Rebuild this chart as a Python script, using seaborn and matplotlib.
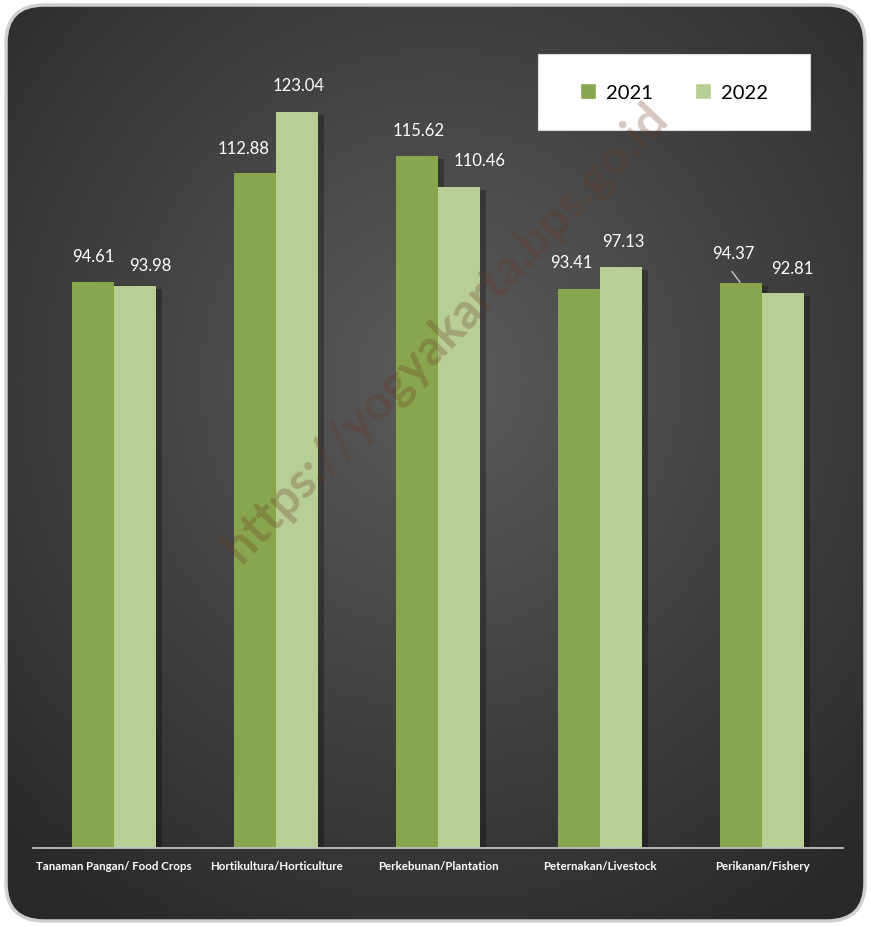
import numpy as np
import matplotlib
matplotlib.use('Agg')
import matplotlib.pyplot as plt
import seaborn as sns
import pandas as pd
from matplotlib.patches import FancyBboxPatch, Rectangle, Patch
import matplotlib.patheffects as pe

categories = ["Tanaman Pangan/ Food Crops", "Hortikultura/Horticulture",
              "Perkebunan/Plantation", "Peternakan/Livestock", "Perikanan/Fishery"]
years = ["2021", "2022"]
values_2021 = [94.61, 112.88, 115.62, 93.41, 94.37]
values_2022 = [93.98, 123.04, 110.46, 97.13, 92.81]

# label offsets (pixels) relative to bar top centre: style only
label_dx = {"2021": [0, -11, 2, -8, -8], "2022": [15, 2, 21, 2, 9]}
label_dy = {"2021": [26, 25, 26, 27, 30], "2022": [21, 27, 27, 26, 25]}

c21 = "#88A64E"
c22 = "#B7CE95"

sns.set_theme(style="white")
plt.rcParams['font.family'] = ['Lato', 'DejaVu Sans']

W, H = 871, 928
fig = plt.figure(figsize=(W / 100, H / 100), dpi=100)
fig.patch.set_facecolor('white')

# background panel with radial gradient
bg = fig.add_axes([0, 0, 1, 1])
bg.set_xlim(0, W)
bg.set_ylim(H, 0)
bg.axis('off')
yy, xx = np.mgrid[0:H, 0:W]
t = np.sqrt(((xx - 440) / 620.0) ** 2 + ((yy - 380) / 650.0) ** 2)
t = np.clip(t, 0, 1)
v = 0.36 * (1 - t) + 0.16 * t
img = np.dstack([v, v, v])
im = bg.imshow(img, extent=(0, W, H, 0), interpolation='bilinear', zorder=1, aspect='auto')
box = FancyBboxPatch((6, 6), W - 12, H - 12, boxstyle='round,pad=0,rounding_size=38',
                     facecolor='none', edgecolor='#d0d0d0', lw=2.5, zorder=2)
bg.add_patch(box)
im.set_clip_path(box)

# main axes
ax = fig.add_axes([33 / W, 1 - 849 / H, 810 / W, 809 / H])
ax.set_facecolor('none')
df = pd.DataFrame({
    'category': categories * 2,
    'year': [years[0]] * len(categories) + [years[1]] * len(categories),
    'value': values_2021 + values_2022,
})
sns.barplot(data=df, x='category', y='value', hue='year', palette=[c21, c22],
            width=0.52, saturation=1, ax=ax, legend=False, errorbar=None,
            linewidth=0, edgecolor='none')
ax.set_ylim(0, 809 / 5.982)
ax.set_xlim(-0.5, len(categories) - 0.5)

for cont, yr in zip(ax.containers, years):
    for i, bar in enumerate(cont):
        bar.set_path_effects([pe.SimplePatchShadow(offset=(4, -2), shadow_rgbFace='black', alpha=0.28),
                              pe.Normal()])
        cx = bar.get_x() + bar.get_width() / 2
        h = bar.get_height()
        ax.annotate(f"{h:.2f}", xy=(cx, h), xytext=(label_dx[yr][i], label_dy[yr][i]),
                    textcoords='offset pixels', ha='center', va='center',
                    color='white', fontsize=12)
        if yr == "2021" and i == 4:
            ax.annotate('', xy=(cx, h), xytext=(-9, 12), textcoords='offset pixels',
                        arrowprops=dict(arrowstyle='-', color='#c8c8c8', lw=1,
                                        shrinkA=0, shrinkB=1))

ax.set_xlabel('')
ax.set_ylabel('')
ax.set_yticks([])
for s in ['left', 'top', 'right']:
    ax.spines[s].set_visible(False)
ax.spines['bottom'].set_color('#c0c0c0')
ax.spines['bottom'].set_linewidth(1.3)
ax.tick_params(axis='x', length=0, pad=9, labelcolor='white', labelsize=8.3)
for lab in ax.get_xticklabels():
    lab.set_fontweight('bold')

# legend
rect = Rectangle((538 / W, 1 - 131 / H), 272 / W, 76 / H, transform=fig.transFigure,
                 facecolor='white', edgecolor='#d9d9d9', lw=0.8, zorder=4)
fig.add_artist(rect)
handles = [Patch(facecolor=c21), Patch(facecolor=c22)]
leg = fig.legend(handles, years, loc='center', bbox_to_anchor=(674 / W, 1 - 93 / H),
                 ncol=2, frameon=False, fontsize=14.5, handlelength=0.8, handleheight=0.8,
                 handletextpad=0.5, columnspacing=2.1)
leg.set_zorder(5)
for txt in leg.get_texts():
    txt.set_color('black')

# watermark
fig.text(445 / W, 1 - 332 / H, 'https://yogyakarta.bps.go.id', rotation=46,
         ha='center', va='center', fontsize=35, fontweight='bold',
         color='#6a3520', alpha=0.28, rotation_mode='anchor', zorder=10)

fig.savefig('out.png', dpi=100, facecolor='white')
